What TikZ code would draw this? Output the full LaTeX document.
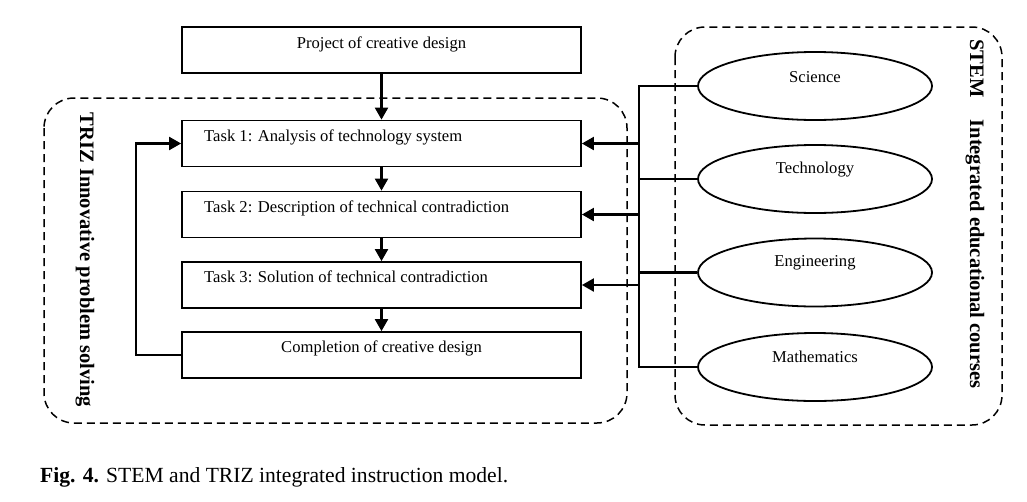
\documentclass[tikz,border=0pt]{standalone}
\usepackage{fontspec}
\setmainfont{Liberation Serif}
\usetikzlibrary{arrows.meta,shapes.geometric}
\begin{document}
\begin{tikzpicture}[x=1pt,y=-1pt,
  box/.style={draw,line width=1.8pt,minimum width=399pt,minimum height=46pt,inner sep=0pt},
  oval/.style={draw,ellipse,line width=1.8pt,minimum width=234pt,minimum height=68pt,inner sep=0pt},
  txt/.style={font=\fontsize{16.6}{19}\selectfont,inner sep=0pt},
  arr/.style={line width=2.2pt,-{Triangle[length=12pt,width=13pt]}},
  conn/.style={line width=2.2pt},
  dashbox/.style={line width=1.5pt,dash pattern=on 8pt off 5pt,rounded corners=30pt},
  side/.style={font=\fontsize{20.5}{23}\selectfont\bfseries,rotate=-90,inner sep=0pt}]
\useasboundingbox (0,0) rectangle (1027,501);
% dashed containers
\draw[dashbox] (44,98) rectangle (627,423);
\draw[dashbox] (675,27) rectangle (1002,425);
% boxes
\node[box] (p)  at (381.5,50) {};
\node[box] (t1) at (381.5,143.5) {};
\node[box] (t2) at (381.5,214.5) {};
\node[box] (t3) at (381.5,285) {};
\node[box] (c)  at (381.5,355) {};
\node[txt] at (381.5,44) {Project of creative design};
\node[txt,anchor=west] at (204,137) {Task 1: Analysis of technology system};
\node[txt,anchor=west] at (204,208) {Task 2: Description of technical contradiction};
\node[txt,anchor=west] at (204,277) {Task 3: Solution of technical contradiction};
\node[txt] at (381.5,348) {Completion of creative design};
% ellipses
\node[oval] (s) at (815,86) {};
\node[oval] (te) at (815,179) {};
\node[oval] (e) at (815,272.5) {};
\node[oval] (m) at (815,367) {};
\node[txt] at (815,77) {Science};
\node[txt] at (815,170) {Technology};
\node[txt] at (815,263) {Engineering};
\node[txt] at (815,357) {Mathematics};
% vertical flow
\draw[arr] (p.south) -- (t1.north);
\draw[arr] (t1.south) -- (t2.north);
\draw[arr] (t2.south) -- (t3.north);
\draw[arr] (t3.south) -- (c.north);
% loop back
\coordinate (lb) at (136,355);
\coordinate (lt) at (136,143.5);
\draw[arr] (c.west) -- (lb) -- (lt) -- (t1.west);
% bus
\coordinate (bus) at (639,0);
\draw[conn] (s.west) -- (s.west -| bus) -- (m.west -| bus) -- (m.west);
\draw[conn] (te.west) -- (te.west -| bus);
\draw[conn] (e.west) -- (e.west -| bus);
\draw[arr] (t1.east -| bus) -- (t1.east);
\draw[arr] (t2.east -| bus) -- (t2.east);
\draw[arr] (t3.east -| bus) -- (t3.east);
% side labels
\node[side] (triz) at (85,260) {TRIZ Innovative problem solving};
\node[side] (stem) at (975,214) {STEM\hspace{22pt}Integrated educational courses};
% caption
\node[anchor=west,inner sep=0pt,font=\fontsize{21.6}{25}\selectfont] (cap) at (40,477) {\textbf{Fig. 4.} STEM and TRIZ integrated instruction model.};
\end{tikzpicture}
\end{document}
